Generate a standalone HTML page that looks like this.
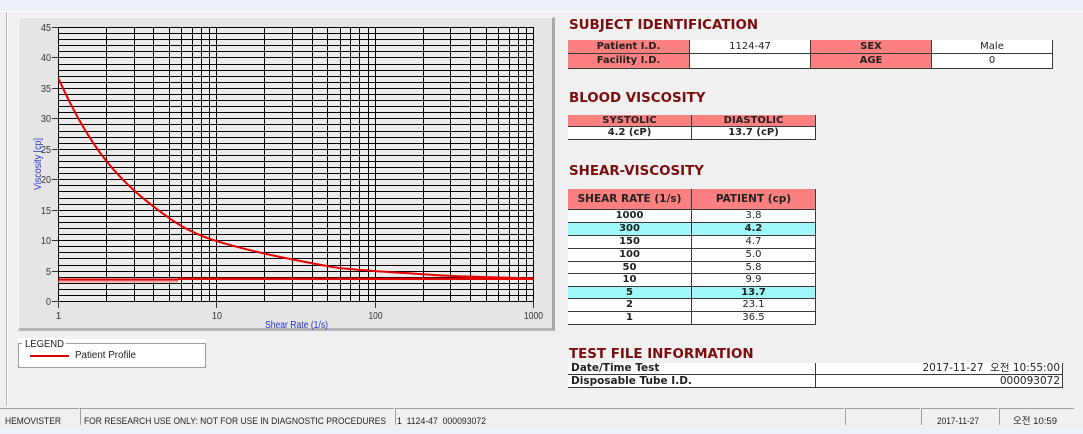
<!DOCTYPE html>
<html>
<head>
<meta charset="utf-8">
<style>
html,body{margin:0;padding:0;}
body{width:1083px;height:434px;position:relative;overflow:hidden;background:#f0f0f0;font-family:"DejaVu Sans","Noto Sans CJK KR",sans-serif;}
.abs{position:absolute;}
.topband{left:0;top:0;width:1083px;height:11px;background:#edf1f8;}
.topline{left:0;top:11px;width:1083px;height:1px;background:#ffffff;}
.botband{left:0;top:427px;width:1083px;height:7px;background:#edf2f9;}
.panel{left:18px;top:17px;width:533px;height:310px;background:#e5e5e5;border-top:1px solid #fafafa;border-left:1px solid #fafafa;border-right:3px solid #a8a8a8;border-bottom:3px solid #b4b4b4;}
.title{position:absolute;font-family:"DejaVu Sans",sans-serif;font-weight:bold;font-size:13.4px;line-height:14px;color:#7b0d0d;white-space:nowrap;}
.c{position:absolute;box-sizing:border-box;border-right:1px solid #3a3a3a;border-bottom:1px solid #3a3a3a;text-align:center;font-family:"DejaVu Sans","Noto Sans CJK KR",sans-serif;font-size:10px;color:#222;white-space:nowrap;overflow:hidden;background:#fff;}
.p{background:#fd8080;font-weight:bold;}
.b{font-weight:bold;}
.cy{background:#9ff7f7;}
.sb{position:absolute;top:408px;height:17px;box-sizing:border-box;border-top:1px solid #a0a0a0;border-left:1px solid #a0a0a0;}
</style>
</head>
<body>
<div class="abs topband"></div>
<div class="abs topline"></div>
<div class="abs" style="left:6px;top:12px;width:1px;height:394px;background:#b0b0b0;"></div>
<div class="abs" style="left:7px;top:12px;width:1px;height:394px;background:#ffffff;"></div>

<div class="abs panel"></div>

<!-- legend -->
<div class="abs" style="left:18px;top:339px;width:188px;height:29px;background:#fff;"></div>
<div class="abs" style="left:18px;top:343px;width:186px;height:23px;border:1px solid #a0a0a0;"></div>

<svg class="abs" style="left:0;top:0" width="1083" height="434" xmlns="http://www.w3.org/2000/svg">
  <!-- plot bg -->
  <rect x="58.5" y="27.5" width="475" height="274" fill="#ebebeb"/>
  <!-- horizontal grid -->
  <path shape-rendering="crispEdges" stroke="#000" stroke-width="1" fill="none" d="
M58,301.5H534 M58,295.5H534 M58,289.5H534 M58,283.5H534 M58,277.5H534 M58,271.5H534 M58,265.5H534 M58,258.5H534 M58,252.5H534 M58,246.5H534
M58,240.5H534 M58,234.5H534 M58,228.5H534 M58,222.5H534 M58,216.5H534 M58,210.5H534 M58,204.5H534 M58,198.5H534 M58,191.5H534 M58,185.5H534
M58,179.5H534 M58,173.5H534 M58,167.5H534 M58,161.5H534 M58,155.5H534 M58,149.5H534 M58,143.5H534 M58,137.5H534 M58,131.5H534 M58,124.5H534
M58,118.5H534 M58,112.5H534 M58,106.5H534 M58,100.5H534 M58,94.5H534 M58,88.5H534 M58,82.5H534 M58,76.5H534 M58,70.5H534 M58,64.5H534
M58,57.5H534 M58,51.5H534 M58,45.5H534 M58,39.5H534 M58,33.5H534 M58,27.5H534"/>
  <!-- vertical grid -->
  <path shape-rendering="crispEdges" stroke="#000" stroke-width="1" fill="none" d="
M58.5,27V302 M106.5,27V302 M134.5,27V302 M153.5,27V302 M169.5,27V302 M181.5,27V302 M192.5,27V302 M201.5,27V302 M209.5,27V302
M216.5,27V302 M264.5,27V302 M292.5,27V302 M312.5,27V302 M327.5,27V302 M340.5,27V302 M350.5,27V302 M359.5,27V302 M368.5,27V302
M375.5,27V302 M423.5,27V302 M450.5,27V302 M470.5,27V302 M486.5,27V302 M498.5,27V302 M509.5,27V302 M518.5,27V302 M526.5,27V302 M533.5,27V302"/>
  <!-- y ticks -->
  <path shape-rendering="crispEdges" stroke="#333" stroke-width="1" fill="none" d="
M52,301.5H58 M52,271.5H58 M52,240.5H58 M52,210.5H58 M52,179.5H58 M52,149.5H58 M52,118.5H58 M52,88.5H58 M52,57.5H58 M52,27.5H58"/>
  <!-- x ticks -->
  <path shape-rendering="crispEdges" stroke="#333" stroke-width="1" fill="none" d="M58.5,302V308 M216.5,302V308 M375.5,302V308 M533.5,302V308"/>
  <g font-family="Liberation Sans, sans-serif" font-size="10" fill="#333" text-anchor="end">
    <text x="51" y="305" textLength="5" lengthAdjust="spacingAndGlyphs">0</text>
    <text x="51" y="275" textLength="5" lengthAdjust="spacingAndGlyphs">5</text>
    <text x="51" y="244" textLength="10" lengthAdjust="spacingAndGlyphs">10</text>
    <text x="51" y="214" textLength="10" lengthAdjust="spacingAndGlyphs">15</text>
    <text x="51" y="183" textLength="10" lengthAdjust="spacingAndGlyphs">20</text>
    <text x="51" y="153" textLength="10" lengthAdjust="spacingAndGlyphs">25</text>
    <text x="51" y="122" textLength="10" lengthAdjust="spacingAndGlyphs">30</text>
    <text x="51" y="92" textLength="10" lengthAdjust="spacingAndGlyphs">35</text>
    <text x="51" y="61" textLength="10" lengthAdjust="spacingAndGlyphs">40</text>
    <text x="51" y="31" textLength="10" lengthAdjust="spacingAndGlyphs">45</text>
  </g>
  <g font-family="Liberation Sans, sans-serif" font-size="10" fill="#333" text-anchor="middle">
    <text x="58.5" y="319">1</text>
    <text x="217" y="319" textLength="10" lengthAdjust="spacingAndGlyphs">10</text>
    <text x="375.5" y="319" textLength="14" lengthAdjust="spacingAndGlyphs">100</text>
    <text x="533.5" y="319" textLength="19" lengthAdjust="spacingAndGlyphs">1000</text>
  </g>
  <text x="265" y="328" font-family="Liberation Sans, sans-serif" font-size="10" fill="#2233cc" textLength="63" lengthAdjust="spacingAndGlyphs">Shear Rate (1/s)</text>
  <text transform="translate(41,190) rotate(-90)" x="0" y="0" font-family="Liberation Sans, sans-serif" font-size="10" fill="#2233cc" textLength="52" lengthAdjust="spacingAndGlyphs">Viscosity [cp]</text>

  <!-- flat profile lines -->
  <path d="M58.5,281.5H178" stroke="#f4a4a4" stroke-width="2" fill="none"/>
  <path d="M58.5,279.5H178" stroke="#e60000" stroke-width="2" fill="none"/>
  <path d="M178,278.8H533.7" stroke="#e60000" stroke-width="2.4" fill="none"/>
  <!-- curve -->
  <path d="M58.5,78.5 C74.4,113.8 90.3,140.9 106.2,160.8 C127.2,187.1 148.2,202.9 169.2,218.1 C185.1,229.6 201.0,236.4 216.9,241.2 C253.8,252.4 290.7,259.2 327.6,266.2 C343.5,269.2 359.4,269.7 375.3,271.1 C384.5,271.9 393.8,272.3 403.0,272.9 C419.0,273.9 434.9,275.2 450.9,275.9 C478.5,277.1 506.1,277.7 533.7,278.4" stroke="#e60000" stroke-width="2" fill="none"/>

  <!-- legend content -->
  <rect x="22" y="338" width="44" height="10" fill="#fff"/>
  <text x="25" y="347" font-family="Liberation Sans, sans-serif" font-size="10" fill="#222" textLength="39" lengthAdjust="spacingAndGlyphs">LEGEND</text>
  <path d="M30,356H69" stroke="#d80000" stroke-width="2"/>
  <text x="75" y="358" font-family="Liberation Sans, sans-serif" font-size="10" fill="#222" textLength="61" lengthAdjust="spacingAndGlyphs">Patient Profile</text>

  <!-- status bar text -->
  <g font-family="Liberation Sans, Noto Sans CJK KR, sans-serif" font-size="9.5" fill="#222">
    <text x="5" y="424" textLength="56" lengthAdjust="spacingAndGlyphs">HEMOVISTER</text>
    <text x="84" y="424" textLength="302" lengthAdjust="spacingAndGlyphs">FOR RESEARCH USE ONLY: NOT FOR USE IN DIAGNOSTIC PROCEDURES</text>
    <text x="397" y="424" textLength="89" lengthAdjust="spacingAndGlyphs" xml:space="preserve">1  1124-47  000093072</text>
    <text x="937" y="424" textLength="42" lengthAdjust="spacingAndGlyphs">2017-11-27</text>
    <text x="1013" y="424" textLength="44" lengthAdjust="spacingAndGlyphs">오전 10:59</text>
  </g>
</svg>

<!-- status bar boxes -->
<div class="sb" style="left:0px;width:79px;border-left:none;"></div>
<div class="sb" style="left:80px;width:314px;"></div>
<div class="sb" style="left:395px;width:449px;"></div>
<div class="sb" style="left:845px;width:75px;"></div>
<div class="sb" style="left:921px;width:77px;"></div>
<div class="sb" style="left:999px;width:75px;"></div>
<div class="abs botband"></div>

<!-- SUBJECT IDENTIFICATION -->
<div class="title" style="left:569px;top:19px;">SUBJECT IDENTIFICATION</div>
<div class="c p" style="left:568px;top:40px;width:122px;height:14px;line-height:13px;">Patient I.D.</div>
<div class="c" style="left:690px;top:40px;width:121px;height:14px;line-height:13px;">1124-47</div>
<div class="c p" style="left:811px;top:40px;width:121px;height:14px;line-height:13px;">SEX</div>
<div class="c" style="left:932px;top:40px;width:121px;height:14px;line-height:13px;">Male</div>
<div class="c p" style="left:568px;top:54px;width:122px;height:15px;line-height:14px;">Facility I.D.</div>
<div class="c" style="left:690px;top:54px;width:121px;height:15px;line-height:14px;"></div>
<div class="c p" style="left:811px;top:54px;width:121px;height:15px;line-height:14px;">AGE</div>
<div class="c" style="left:932px;top:54px;width:121px;height:15px;line-height:14px;">0</div>

<!-- BLOOD VISCOSITY -->
<div class="title" style="left:569px;top:92px;">BLOOD VISCOSITY</div>
<div class="c p" style="left:568px;top:115px;width:124px;height:12px;line-height:12px;">SYSTOLIC</div>
<div class="c p" style="left:692px;top:115px;width:124px;height:12px;line-height:12px;">DIASTOLIC</div>
<div class="c b" style="left:568px;top:127px;width:124px;height:13px;line-height:11px;">4.2 (cP)</div>
<div class="c b" style="left:692px;top:127px;width:124px;height:13px;line-height:11px;">13.7 (cP)</div>

<!-- SHEAR-VISCOSITY -->
<div class="title" style="left:569px;top:165px;">SHEAR-VISCOSITY</div>
<div class="c p" style="left:568px;top:189px;width:124px;height:21px;line-height:20px;font-size:10.5px;">SHEAR RATE (1/s)</div>
<div class="c p" style="left:692px;top:189px;width:124px;height:21px;line-height:20px;font-size:10.5px;">PATIENT (cp)</div>

<div class="c b" style="left:568px;top:210px;width:124px;height:13px;line-height:12px;">1000</div>
<div class="c" style="left:692px;top:210px;width:124px;height:13px;line-height:12px;">3.8</div>
<div class="c b cy" style="left:568px;top:223px;width:124px;height:13px;line-height:12px;">300</div>
<div class="c b cy" style="left:692px;top:223px;width:124px;height:13px;line-height:12px;">4.2</div>
<div class="c b" style="left:568px;top:236px;width:124px;height:13px;line-height:12px;">150</div>
<div class="c" style="left:692px;top:236px;width:124px;height:13px;line-height:12px;">4.7</div>
<div class="c b" style="left:568px;top:249px;width:124px;height:13px;line-height:12px;">100</div>
<div class="c" style="left:692px;top:249px;width:124px;height:13px;line-height:12px;">5.0</div>
<div class="c b" style="left:568px;top:262px;width:124px;height:12px;line-height:11px;">50</div>
<div class="c" style="left:692px;top:262px;width:124px;height:12px;line-height:11px;">5.8</div>
<div class="c b" style="left:568px;top:274px;width:124px;height:13px;line-height:12px;">10</div>
<div class="c" style="left:692px;top:274px;width:124px;height:13px;line-height:12px;">9.9</div>
<div class="c b cy" style="left:568px;top:287px;width:124px;height:12px;line-height:11px;">5</div>
<div class="c b cy" style="left:692px;top:287px;width:124px;height:12px;line-height:11px;">13.7</div>
<div class="c b" style="left:568px;top:299px;width:124px;height:13px;line-height:12px;">2</div>
<div class="c" style="left:692px;top:299px;width:124px;height:13px;line-height:12px;">23.1</div>
<div class="c b" style="left:568px;top:312px;width:124px;height:13px;line-height:12px;">1</div>
<div class="c" style="left:692px;top:312px;width:124px;height:13px;line-height:12px;">36.5</div>

<!-- TEST FILE INFORMATION -->
<div class="title" style="left:569px;top:348px;">TEST FILE INFORMATION</div>
<div class="c b" style="left:568px;top:363px;width:248px;height:12px;line-height:11px;text-align:left;padding-left:3px;font-size:10.5px;">Date/Time Test</div>
<div class="c" style="left:816px;top:363px;width:247px;height:12px;line-height:11px;text-align:right;padding-right:2px;font-size:10.5px;">2017-11-27&nbsp;&nbsp;오전 10:55:00</div>
<div class="c b" style="left:568px;top:375px;width:248px;height:13px;line-height:12px;text-align:left;padding-left:3px;font-size:10.5px;">Disposable Tube I.D.</div>
<div class="c" style="left:816px;top:375px;width:247px;height:13px;line-height:12px;text-align:right;padding-right:2px;font-size:10.5px;">000093072</div>
</body>
</html>
